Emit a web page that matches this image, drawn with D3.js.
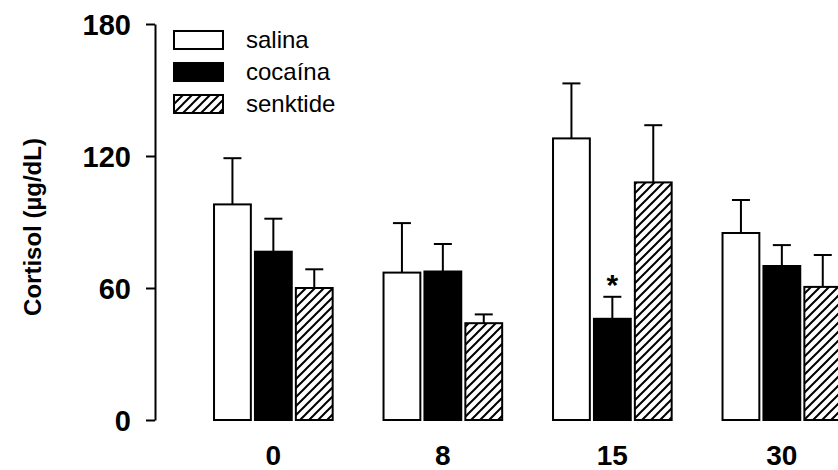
<!DOCTYPE html>
<meta charset="utf-8">
<style>
    body { margin: 0; background: #fff; }
    text { font-family: Arial, "Liberation Sans", sans-serif; }
</style>
<body>
    <div id="chart"></div>
</body>
<script src="https://cdn.jsdelivr.net/npm/d3@7"></script>
<script>
    var svg_width = 838,
        svg_height = 470;

    // data
    var groups = ["0", "8", "15", "30"];
    var series = ["salina", "cocaína", "senktide"];
    var salina   = [98, 67, 128, 85];
    var cocaina  = [76.5, 67.5, 46, 70];
    var senktide = [60, 44, 108, 60.5];
    var salina_err   = [21, 22.5, 25, 15];
    var cocaina_err  = [15, 12.5, 10, 9.5];
    var senktide_err = [8.5, 4, 26, 14.5];
    var y_ticks = [0, 60, 120, 180];
    var significant = [{group: "15", series: "cocaína"}];

    var values = [salina, cocaina, senktide];
    var errors = [salina_err, cocaina_err, senktide_err];

    var rows = [];
    groups.forEach(function(g, gi) {
        series.forEach(function(s, si) {
            rows.push({group: g, series: s, value: values[si][gi], err: errors[si][gi]});
        });
    });

    var svg = d3.select("#chart").append("svg")
        .attr("width", svg_width)
        .attr("height", svg_height);

    // hatch for senktide
    svg.append("defs").append("pattern")
        .attr("id", "hatch")
        .attr("patternUnits", "userSpaceOnUse")
        .attr("width", 9)
        .attr("height", 9)
        .call(function(p) {
            p.append("rect").attr("width", 9).attr("height", 9).attr("fill", "#fff");
            p.append("path")
                .attr("d", "M-2,11 L11,-2 M-2,2 L2,-2 M7,11 L11,7")
                .attr("stroke", "#000")
                .attr("stroke-width", 2);
        });

    var fills = {"salina": "#fff", "cocaína": "#000", "senktide": "url(#hatch)"};

    var y = d3.scaleLinear().domain([0, 180]).range([420, 24]);

    var x0 = d3.scaleBand().domain(groups)
        .range([188.6, 866.6])
        .paddingInner(0.3)
        .paddingOuter(0.15);

    var x1 = d3.scaleBand().domain(series)
        .range([0, x0.bandwidth()])
        .paddingInner(0.1);

    // y axis
    var yAxis = svg.append("g")
        .attr("transform", "translate(155,0)")
        .call(d3.axisLeft(y).tickValues(y_ticks).tickSize(9).tickPadding(15).tickSizeOuter(0));
    yAxis.select(".domain").attr("stroke-width", 2);
    yAxis.selectAll(".tick line").attr("stroke-width", 2);
    yAxis.selectAll(".tick text")
        .style("font-family", "Arial, 'Liberation Sans', sans-serif")
        .style("font-size", "29px")
        .style("font-weight", "bold")
        .attr("dy", "0.36em");

    // x labels (no axis line)
    svg.append("g").selectAll("text")
        .data(groups)
        .enter()
            .append("text")
            .attr("x", function(d) { return x0(d) + x0.bandwidth() / 2; })
            .attr("y", 465)
            .attr("text-anchor", "middle")
            .style("font-size", "28px")
            .style("font-weight", "bold")
            .text(function(d) { return d; });

    // error bars (upper only)
    var eb = svg.append("g").selectAll("g")
        .data(rows)
        .enter()
            .append("g")
            .attr("transform", function(d) { return "translate(" + (x0(d.group) + x1(d.series) + x1.bandwidth() / 2) + ",0)"; });
    eb.append("line")
        .attr("y1", function(d) { return y(d.value); })
        .attr("y2", function(d) { return y(d.value + d.err); })
        .attr("stroke", "#000").attr("stroke-width", 2);
    eb.append("line")
        .attr("x1", -9).attr("x2", 9)
        .attr("y1", function(d) { return y(d.value + d.err); })
        .attr("y2", function(d) { return y(d.value + d.err); })
        .attr("stroke", "#000").attr("stroke-width", 2);

    // bars
    svg.append("g").selectAll("rect")
        .data(rows)
        .enter()
            .append("rect")
            .attr("x", function(d) { return x0(d.group) + x1(d.series); })
            .attr("y", function(d) { return y(d.value); })
            .attr("width", x1.bandwidth())
            .attr("height", function(d) { return y(0) - y(d.value); })
            .attr("fill", function(d) { return fills[d.series]; })
            .attr("stroke", "#000")
            .attr("stroke-width", 2);

    // significance marks
    svg.append("g").selectAll("text")
        .data(significant)
        .enter()
            .append("text")
            .attr("x", function(d) { return x0(d.group) + x1(d.series) + x1.bandwidth() / 2; })
            .attr("y", function(d) {
                var r = rows.find(function(o) { return o.group == d.group && o.series == d.series; });
                return y(r.value + r.err) - 2;
            })
            .attr("text-anchor", "middle")
            .style("font-size", "30px")
            .style("font-weight", "bold")
            .text("*");

    // y label
    svg.append("text")
        .attr("transform", "translate(41,227) rotate(-90)")
        .attr("text-anchor", "middle")
        .style("font-size", "24px")
        .style("font-weight", "bold")
        .text("Cortisol (µg/dL)");

    // legend
    var legend = svg.append("g").selectAll("g")
        .data(series)
        .enter()
            .append("g")
            .attr("transform", function(d, i) { return "translate(174," + (31 + i * 32) + ")"; });
    legend.append("rect")
        .attr("width", 49)
        .attr("height", 18)
        .attr("fill", function(d) { return fills[d]; })
        .attr("stroke", "#000")
        .attr("stroke-width", 2);
    legend.append("text")
        .attr("x", 72)
        .attr("y", 9)
        .attr("dy", "0.35em")
        .style("font-size", "24px")
        .text(function(d) { return d; });
</script>
